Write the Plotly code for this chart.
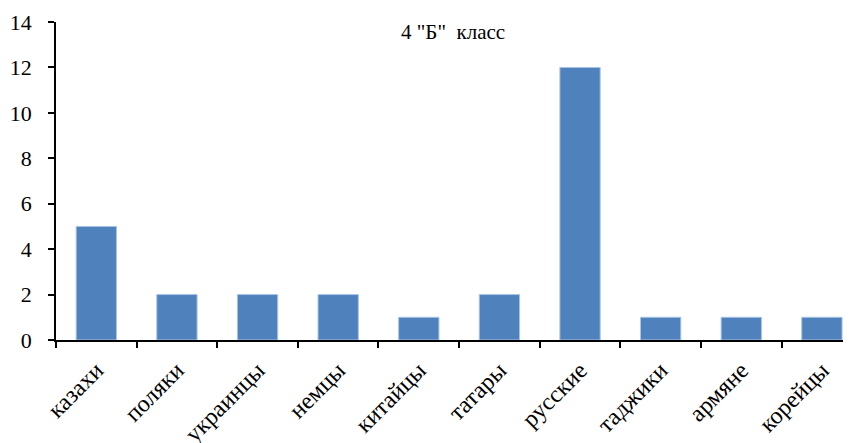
import plotly.graph_objects as go

categories = ["казахи", "поляки", "украинцы", "немцы", "китайцы", "татары",
              "русские", "таджики", "армяне", "корейцы"]
values = [5, 2, 2, 2, 1, 2, 12, 1, 1, 1]
y_ticks = [0, 2, 4, 6, 8, 10, 12, 14]
title_text = '4 "Б"  класс'

FONT = "Liberation Serif, Times New Roman, serif"

fig = go.Figure(go.Bar(
    x=categories, y=values,
    marker=dict(color="#4F81BD", line=dict(color="#A9C4E6", width=1)),
))

fig.update_layout(
    width=851, height=443,
    margin=dict(l=48, r=0, t=14, b=111),
    paper_bgcolor="white", plot_bgcolor="white",
    bargap=0.5,
    showlegend=False,
    font=dict(family=FONT, color="black"),
    annotations=[dict(text=title_text, x=0.495, y=0.969, xref="paper", yref="paper",
                      xanchor="center", yanchor="middle", showarrow=False,
                      font=dict(family=FONT, size=21, color="black"))],
)
fig.update_xaxes(
    range=[-0.5, 9.46], automargin=False,
    showline=True, linecolor="black", linewidth=1.5,
    ticks="outside", tickson="boundaries", ticklen=6, tickcolor="black", tickwidth=1.5,
    tickangle=-45, tickfont=dict(family=FONT, size=24, color="black"),
    ticklabelstandoff=5,
    showgrid=False,
)
fig.update_yaxes(
    range=[0, 14], tickvals=y_ticks, automargin=False,
    showline=True, linecolor="black", linewidth=1.5,
    ticks="outside", ticklen=6, tickcolor="black", tickwidth=1.5,
    tickfont=dict(family=FONT, size=22, color="black"),
    ticklabelstandoff=12,
    showgrid=False, zeroline=False,
)

fig.write_html("out.html")
